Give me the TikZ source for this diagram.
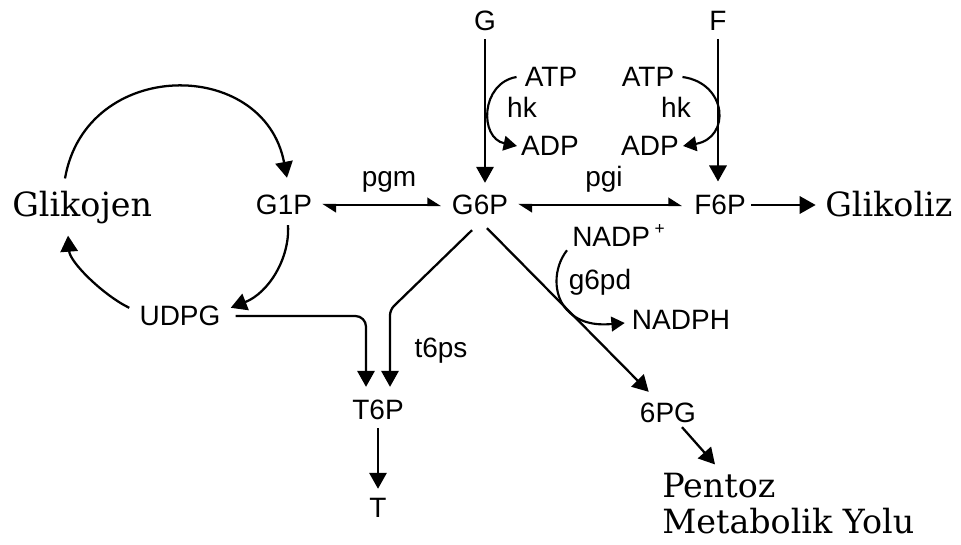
\documentclass[tikz,border=0pt]{standalone}
\usepackage{fontspec}
\setsansfont{Liberation Sans}
\newfontfamily\serifa{DejaVu Serif}
\usetikzlibrary{arrows.meta,calc}
\begin{document}
\begin{tikzpicture}[x=0.75pt,y=-0.75pt,
  sf/.style={font=\sffamily\fontsize{21}{21}\selectfont, inner sep=0pt},
  sr/.style={font=\serifa\fontsize{25}{25}\selectfont, inner sep=0pt},
  arr/.style={line width=1.7pt, -{Triangle[length=12pt,width=13pt]}},
  arrs/.style={line width=1.6pt, -{Triangle[length=10pt,width=11pt]}},
  eq/.style={line width=1.6pt, {Triangle[harpoon,length=9pt,width=11pt]}-{Triangle[harpoon,length=9pt,width=11pt]}},
]
\useasboundingbox (0,0) rectangle (961,545);
% nodes
\node[sf] (G) at (485,21) {G};
\node[sf] (F) at (718,21) {F};
\node[sf] (atpL) at (551,77) {ATP};
\node[sf,anchor=base] (hkL) at (522,118) {hk};
\node[sf] (adpL) at (550,146) {ADP};
\node[sf] (atpR) at (648,77) {ATP};
\node[sf,anchor=base] (hkR) at (676,118) {hk};
\node[sf] (adpR) at (650,146) {ADP};
\node[sf] (g6p) at (480,205) {G6P};
\node[sf] (g1p) at (284,205) {G1P};
\node[sf] (f6p) at (720,205) {F6P};
\node[sf,anchor=base] (pgm) at (389,187) {pgm};
\node[sf,anchor=base] (pgi) at (604,187) {pgi};
\node[sf,anchor=base west] (nadp) at (572,247) {NADP\,\raisebox{.45em}{\fontsize{13}{13}\selectfont +}};
\node[sf,anchor=base] (g6pd) at (600,290) {g6pd};
\node[sf] (nadph) at (681,320) {NADPH};
\node[sf,anchor=base] (t6ps) at (441,358) {t6ps};
\node[sf] (udpg) at (180,316) {UDPG};
\node[sf] (t6p) at (378,410) {T6P};
\node[sf] (T) at (378,508) {T};
\node[sf] (pg6) at (668,413) {6PG};
\node[sr,anchor=base west] (glik) at (12,217) {Glikojen};
\node[sr,anchor=base west] (glz) at (825,217) {Glikoliz};
\node[sr,anchor=base west] (pent) at (662,497) {Pentoz};
\node[sr,anchor=base west] (meta) at (662,533) {Metabolik Yolu};
% connectors
\draw[arr] ([yshift=-6pt]G.south) -- ([yshift=9pt]G.south |- g6p.north);
\draw[arr] ([yshift=-6pt]F.south) -- ([yshift=10pt]F.south |- f6p.north);
\draw[arrs] ([xshift=-6pt]atpL.west) .. controls +(-36,6) and +(-38,-8) .. ([xshift=-3pt]adpL.west);
\draw[arrs] ([xshift=6pt]atpR.east) .. controls +(45,6) and +(48,-8) .. ([xshift=3pt]adpR.east);
\draw[eq, shorten <=7.5pt, shorten >=8pt] (g1p.east) -- (g6p.west);
\draw[eq, shorten <=7.5pt, shorten >=9pt] (g6p.east) -- (f6p.west);
\draw[arr, shorten <=4pt, shorten >=7pt] (f6p.east) -- (f6p.east -| glz.west);
% glycogen cycle
\draw[arr] ($(glik.north west)+(53,-13)$) .. controls +(21,-121) and +(-23,-121) .. ($(g1p.north)+(3,-17)$);
\draw[arr] ($(g1p.south)+(4,10)$) .. controls +(2,33) and +(38,-15) .. ($(udpg.north east)+(10,2)$);
\draw[arr] ($(udpg.north west)+(-10,2)$) .. controls +(-25,-12) and +(2,27) .. ($(glik.south west)+(56,11)$);
% trehalose
\draw[arr, rounded corners=4pt] ($(g6p.south)+(-8,15)$) -- ($(t6p.north)+(12,-90)$) -- ($(t6p.north)+(12,-13)$);
\draw[arr, rounded corners=8pt] ($(udpg.east)+(15,0)$) -| ($(t6p.north)+(-12,-13)$);
\draw[arr, shorten <=6pt, shorten >=7pt] (t6p.south) -- (t6p.south |- T.north);
% pentose
\draw[arr] ($(g6p.south)+(7,13)$) -- ($(pg6.north west)+(9,-11)$);
\coordinate (gj) at (567,310);
\draw[arrs] ($(nadp.south west)+(-5,3)$) .. controls +(-14,18) and +(-14,-15) .. (gj) .. controls +(14,15) and +(-25,2) .. ($(nadph.west)+(-7,3)$);
\draw[arr] ($(pg6.south)+(14,4)$) -- ($(pent.north west)+(53,-8)$);
\end{tikzpicture}
\end{document}
